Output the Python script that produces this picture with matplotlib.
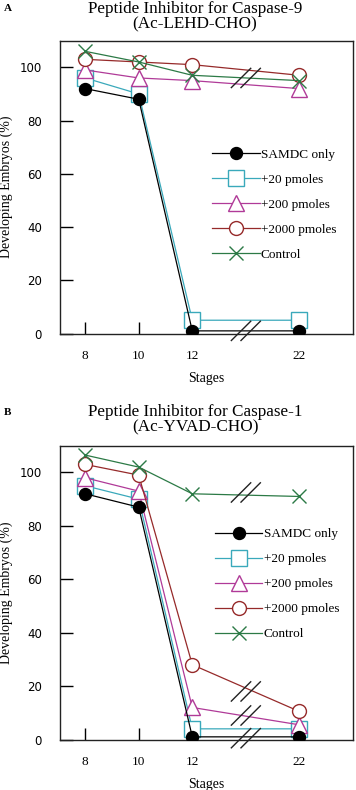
import numpy as np
import matplotlib
matplotlib.use("Agg")
import matplotlib.pyplot as plt

plt.rcParams['font.family'] = ['Liberation Serif', 'DejaVu Serif']

# stages on a broken x axis (22 sits two slots after 12)
stages = ['8', '10', '12', '22']
stage_pos = [0, 1, 2, 4]

labels = ['SAMDC only', '+20 pmoles', '+200 pmoles', '+2000 pmoles', 'Control']

# panel A: Ac-LEHD-CHO (caspase-9)
samdc_a = [92, 88, 1, 1]
p20_a = [96, 90, 5, 5]
p200_a = [99, 96, 95, 92]
p2000_a = [103, 102, 101, 97]
control_a = [106, 102, 97, 95]

# panel B: Ac-YVAD-CHO (caspase-1)
samdc_b = [92, 87, 1, 1]
p20_b = [95, 90, 4, 4]
p200_b = [98, 93, 12, 5.5]
p2000_b = [103, 99, 28, 10.5]
control_b = [106.5, 102, 92, 91]

# where the // break marks sit (y values at the break column)
breaks_a = [96, 1]
breaks_b = [92.5, 18, 9, 0.5]

colors = ['black', '#3aa9bb', '#b03a98', '#962a2a', '#2c7a46']
markers = ['o', 's', '^', 'o', 'x']
msizes = [8.6, 11.5, 11, 10, 10]
faces = ['black', 'white', 'white', 'white', 'none']
zorders = [6, 3, 4, 5, 7]


def draw_panel(ax, series, breaks, leg_anchor):
    for i, vals in enumerate(series):
        ax.plot(stage_pos, vals, color=colors[i], marker=markers[i],
                ms=msizes[i], mfc=faces[i], mec=colors[i], mew=1.0,
                lw=0.9, label=labels[i], zorder=zorders[i])

    # axis break marks
    for yb in breaks:
        for dx in (-0.09, 0.09):
            xc = 3.0 + dx
            ax.plot([xc - 0.19, xc + 0.19], [yb - 3.8, yb + 3.8],
                    color='#222222', lw=1.0, zorder=8, clip_on=False,
                    solid_capstyle='butt')

    ax.set_xlim(-0.47, 5.0)
    ax.set_ylim(0, 110)
    ax.set_xticks(stage_pos)
    ax.set_xticklabels(stages, fontsize=9.5)
    ax.set_yticks([0, 20, 40, 60, 80, 100])
    ax.set_yticklabels(['0', '20', '40', '60', '80', '100'],
                       family='DejaVu Sans', fontsize=8.5)
    ax.tick_params(axis='both', direction='in', width=1.0)
    ax.tick_params(axis='y', length=9.5, pad=13)
    ax.tick_params(axis='x', length=8.5, pad=12)
    for s in ax.spines.values():
        s.set_linewidth(1.0)
        s.set_color('#222222')
    ax.set_ylabel('Developing Embryos (%)', fontsize=10, labelpad=5)
    ax.set_xlabel('Stages', fontsize=10, labelpad=7)
    ax.legend(loc='upper left', bbox_to_anchor=leg_anchor, frameon=False,
              fontsize=9.5, handlelength=3.6, handletextpad=0.1,
              labelspacing=0.97, numpoints=1, borderpad=0, borderaxespad=0)


fig = plt.figure(figsize=(3.56, 7.9), dpi=100)
ax_a = fig.add_axes([0.1685, 0.5778, 0.823, 0.3707])
ax_b = fig.add_axes([0.1685, 0.0639, 0.823, 0.3719])

draw_panel(ax_a, [samdc_a, p20_a, p200_a, p2000_a, control_a], breaks_a, (0.519, 0.632))
draw_panel(ax_b, [samdc_b, p20_b, p200_b, p2000_b, control_b], breaks_b, (0.529, 0.72))

fig.text(0.548, 0.9985, 'Peptide Inhibitor for Caspase-9\n(Ac-LEHD-CHO)',
         ha='center', va='top', fontsize=12.3, linespacing=0.95)
fig.text(0.548, 0.4885, 'Peptide Inhibitor for Caspase-1\n(Ac-YVAD-CHO)',
         ha='center', va='top', fontsize=12.3, linespacing=0.95)
fig.text(0.01, 0.995, 'A', ha='left', va='top', fontsize=8, fontweight='bold')
fig.text(0.01, 0.483, 'B', ha='left', va='top', fontsize=8, fontweight='bold')

fig.savefig('out.png', dpi=100)
